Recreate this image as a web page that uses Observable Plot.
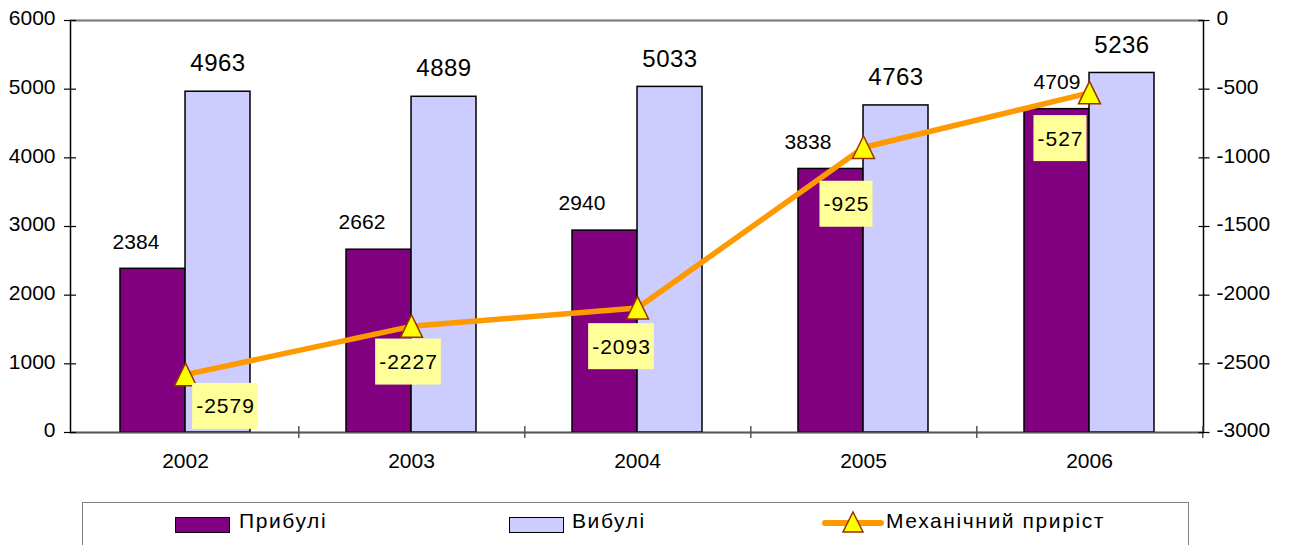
<!DOCTYPE html>
<html><head><meta charset="utf-8">
<script src="https://cdn.jsdelivr.net/npm/d3@7"></script>
<script src="https://cdn.jsdelivr.net/npm/@observablehq/plot@0.6"></script>
<style>
body{margin:0;background:#fff;font-family:"Liberation Sans",Arial,sans-serif;}
#chart svg{display:block;}
#legend{position:absolute;left:82px;top:502px;width:1107px;height:80px;border:1.5px solid #808080;border-bottom:none;box-sizing:border-box;}
#legend .sw{position:absolute;width:55px;height:16px;border:1.5px solid #000;box-sizing:border-box;}
#legend .lb{position:absolute;font-size:21px;line-height:20px;letter-spacing:1.6px;color:#000;white-space:nowrap;}
#legend svg{position:absolute;}
</style></head>
<body>
<div id="chart"></div>
<div id="legend"></div>
<script>
// ---- data ----
const years = ["2002", "2003", "2004", "2005", "2006"];
const arrivals = [2384, 2662, 2940, 3838, 4709];      // Прибулі
const departures = [4963, 4889, 5033, 4763, 5236];    // Вибулі
const netMigration = [-2579, -2227, -2093, -925, -527]; // Механічний приріст
const leftTicks = [0, 1000, 2000, 3000, 4000, 5000, 6000];
const rightTicks = [0, -500, -1000, -1500, -2000, -2500, -3000];
const seriesNames = ["Прибулі", "Вибулі", "Механічний приріст"];

// ---- layout / style ----
const W = 1289, H = 490, ML = 70, MR = 86, MT = 20, MB = 58;
const padInner = 0.426, padOuter = padInner / 2;
const step = (W - ML - MR) / years.length;
const bw = step * (1 - padInner);
const half = bw / 2;
const colArr = "#800080", colDep = "#CCCCFF", colLine = "#FF9900";
const depLabelInk = "#000001", netLabelInk = "#010000";
const arrLabelDx = [-17, -17, -23, -23, 0];
const netLabelOff = [[40, 32], [-3, 36], [-16, 39], [-17, 57], [-29, 46]];

// right axis (-3000..0) mapped onto left scale (0..6000)
const toLeft = r => (r + 3000) * 2;
const fromLeft = v => v / 2 - 3000;

const rows = years.map((year, i) => ({year, arrivals: arrivals[i], departures: departures[i], net: netMigration[i]}));

const triangle = {
  draw(ctx, size) {
    const h = Math.sqrt(size / Math.PI);
    ctx.moveTo(0, -h * 1.05);
    ctx.lineTo(h, h);
    ctx.lineTo(-h, h);
    ctx.closePath();
  }
};

const marks = [
  Plot.frame({stroke: "#000", strokeWidth: 1.5}),
  Plot.barY(rows, {x: "year", y: "arrivals", fill: colArr, stroke: "#000", strokeWidth: 1.5, insetRight: half}),
  Plot.barY(rows, {x: "year", y: "departures", fill: colDep, stroke: "#000", strokeWidth: 1.5, insetLeft: half}),
  Plot.ruleY([6000], {stroke: "#808080", strokeWidth: 1.6}),
  Plot.ruleY([0], {stroke: "#555", strokeWidth: 1.5}),
  Plot.ruleX(years, {x: d => d, dx: step / 2, y1: () => 0, y2: () => 0, insetTop: 6, insetBottom: 6, stroke: "#555", strokeWidth: 1.5}),
  // left axis
  Plot.axisY({ticks: leftTicks, tickSize: 12, dx: 6, fill: "none", label: null, strokeWidth: 1.2}),
  Plot.axisY({ticks: leftTicks, tickSize: 0, tickPadding: 15, dy: -2, tickFormat: d => String(d), label: null, fill: "#000"}),
  // right axis
  Plot.axisY({anchor: "right", ticks: rightTicks.map(toLeft), tickSize: 11, dx: -5.5, fill: "none", label: null, strokeWidth: 1.2}),
  Plot.axisY({anchor: "right", ticks: rightTicks.map(toLeft), tickSize: 0, tickPadding: 13, dy: -2, tickFormat: v => `${fromLeft(v)}`, label: null, fill: "#000"}),
  // x axis
  Plot.axisX({tickSize: 0, tickPadding: 21, label: null, fill: "#000"}),
  // departures labels
  Plot.text(rows, {x: "year", y: "departures", text: d => String(d.departures), dx: half / 2, dy: -28, fontSize: 24, fill: depLabelInk}),
  // arrivals labels
  ...rows.map((d, i) => Plot.text([d], {x: "year", y: "arrivals", text: d => String(d.arrivals), dx: -half / 2 + arrLabelDx[i], dy: -27, fontSize: 21, fill: "#000"})),
  // net migration line
  Plot.line(rows, {x: "year", y: d => toLeft(d.net), stroke: colLine, strokeWidth: 5.5}),
  Plot.dot(rows, {x: "year", y: d => toLeft(d.net), symbol: triangle, r: 11, fill: "#FFFF00", stroke: "#993300", strokeWidth: 1.5}),
  ...rows.map((d, i) => Plot.text([d], {x: "year", y: d => toLeft(d.net), text: d => String(d.net), dx: netLabelOff[i][0], dy: netLabelOff[i][1], fontSize: 21, fill: netLabelInk}))
];

const chart = Plot.plot({
  width: W, height: H,
  marginLeft: ML, marginRight: MR, marginTop: MT, marginBottom: MB,
  style: {fontFamily: "'Liberation Sans', Arial, sans-serif", fontSize: "21px", background: "#fff", color: "#000", overflow: "visible"},
  x: {domain: years, paddingInner: padInner, paddingOuter: padOuter, label: null},
  y: {domain: [0, 6000], label: null},
  marks
});
document.getElementById("chart").appendChild(chart);

const SVGNS = "http://www.w3.org/2000/svg";
// letter spacing for data labels (mimic the wide label font)
chart.querySelectorAll(`g[fill="${depLabelInk}"] text`).forEach(t => t.style.letterSpacing = "0.5px");
chart.querySelectorAll(`g[fill="${netLabelInk}"] text`).forEach(t => t.style.letterSpacing = "1px");
// yellow boxes behind net-migration labels
chart.querySelectorAll(`g[fill="${netLabelInk}"] text`).forEach(t => {
  const b = t.getBBox();
  const r = document.createElementNS(SVGNS, "rect");
  r.setAttribute("x", b.x - 4);
  r.setAttribute("y", b.y + b.height / 2 - 23);
  r.setAttribute("width", b.width + 7);
  r.setAttribute("height", 46);
  r.setAttribute("fill", "#FFFF99");
  r.setAttribute("stroke", "none");
  const tr = t.getAttribute("transform");
  if (tr) r.setAttribute("transform", tr);
  t.parentNode.insertBefore(r, t);
});

// legend (HTML, below the svg)
const legend = document.getElementById("legend");
const legendItems = [
  {name: seriesNames[0], kind: "bar", color: colArr, sx: 92, tx: 156},
  {name: seriesNames[1], kind: "bar", color: colDep, sx: 426, tx: 489},
  {name: seriesNames[2], kind: "line", color: colLine, sx: 739, tx: 803}
];
legendItems.forEach(it => {
  if (it.kind === "bar") {
    const s = document.createElement("div");
    s.className = "sw";
    s.style.left = it.sx + "px"; s.style.top = "14px"; s.style.background = it.color;
    legend.appendChild(s);
  } else {
    const s = document.createElementNS(SVGNS, "svg");
    s.setAttribute("width", 62); s.setAttribute("height", 30);
    s.style.left = it.sx + "px"; s.style.top = "5px";
    s.innerHTML = `<line x1="3" y1="15" x2="59" y2="15" stroke="${it.color}" stroke-width="6" stroke-linecap="round"/>
      <path d="M31,4 L41,24 L21,24 Z" fill="#FFFF00" stroke="#993300" stroke-width="1.5"/>`;
    legend.appendChild(s);
  }
  const l = document.createElement("div");
  l.className = "lb";
  l.style.left = it.tx + "px"; l.style.top = "8px";
  l.textContent = it.name;
  legend.appendChild(l);
});
</script>
</body></html>
